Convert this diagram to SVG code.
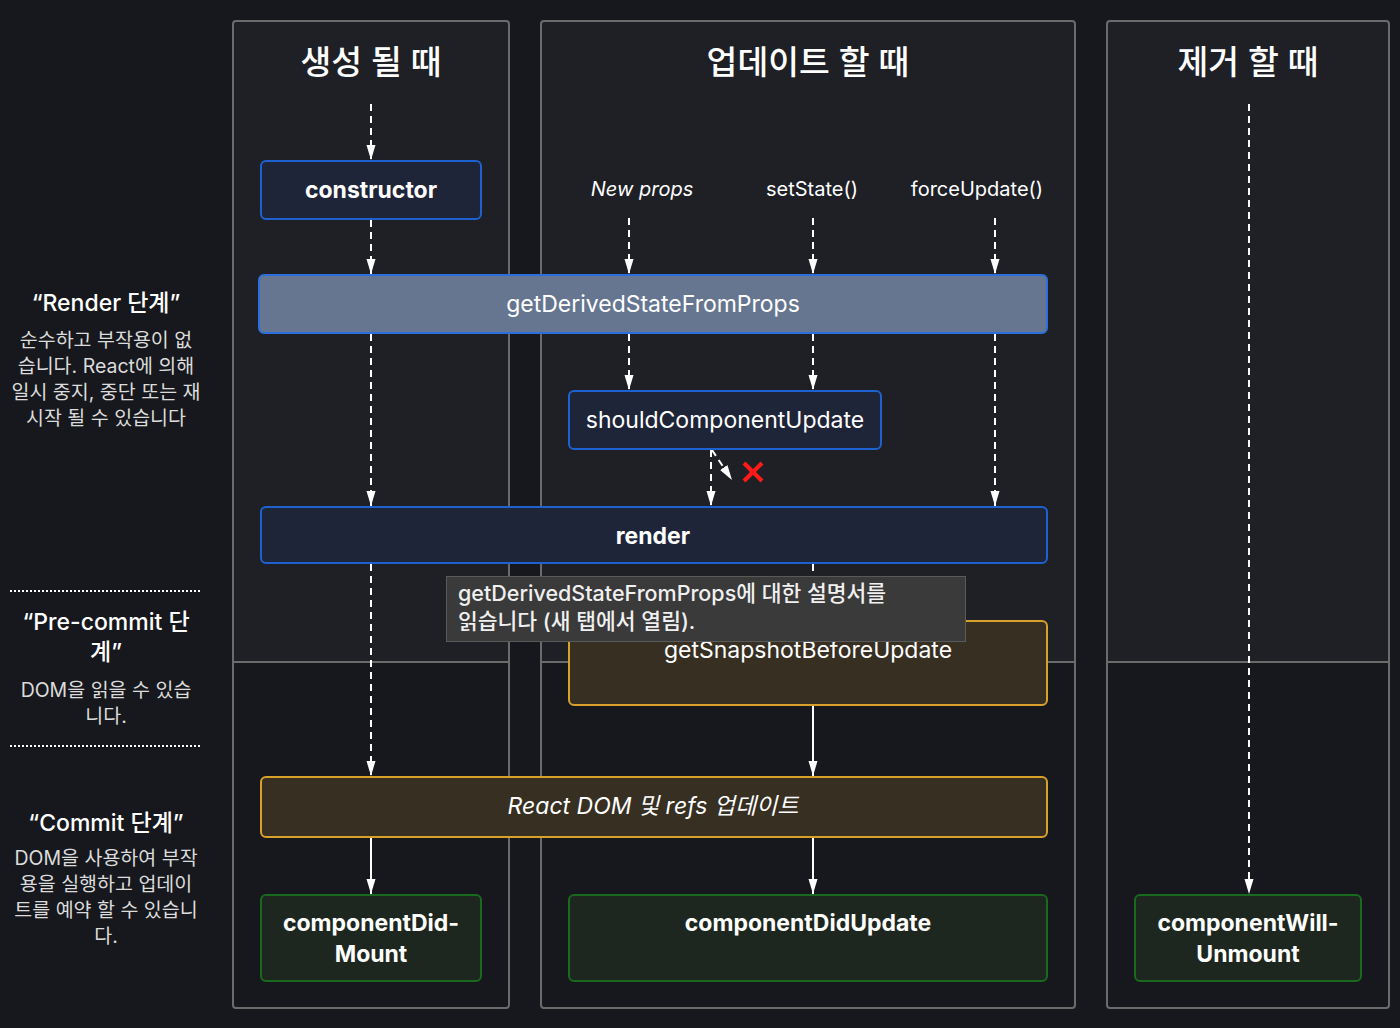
<svg xmlns="http://www.w3.org/2000/svg" width="1400" height="1028" viewBox="0 0 1400 1028">
<defs>
<style>
text{font-family:"Inter","Noto Sans CJK KR",sans-serif;fill:#ffffff}
.title{font-size:33.500px;font-weight:500;text-anchor:middle}
.node{font-size:23px;text-anchor:middle}
.b{font-weight:bold}
.lbl{font-size:20px;text-anchor:middle}
.side-h{font-size:23px;font-weight:500;text-anchor:middle}
.side{font-size:19.500px;text-anchor:middle;fill:#dcdcdc}
.tip{font-size:21.500px;font-weight:500;fill:#f0f0f0}
.col-up{fill:#1e2026}
.col-border{fill:none;stroke:#6b6b6b;stroke-width:2}
.divider{stroke:#6b6b6b;stroke-width:2}
.blue{fill:#1f2538;stroke:#1d62d0;stroke-width:2}
.gdsfp{fill:#667690;stroke:#2a6fdc;stroke-width:2}
.gold{fill:#372f22;stroke:#d9a02a;stroke-width:2}
.green{fill:#1e271f;stroke:#19691f;stroke-width:2}
.dash{stroke:#ffffff;stroke-width:2;stroke-dasharray:7 5;fill:none}
.solid{stroke:#ffffff;stroke-width:2;fill:none}
.dotted{stroke:#ffffff;stroke-width:2;stroke-dasharray:2 2}
</style>
<marker id="ah" markerUnits="userSpaceOnUse" markerWidth="16" markerHeight="10" viewBox="0 0 16 10" refX="15" refY="5" orient="auto">
<path d="M0,0.500 L15,5 L0,9.500 Z" fill="#ffffff"/>
</marker>
</defs>
<rect width="1400" height="1028" fill="#16181d"/>

<g id="columns">
<rect class="col-up" x="233" y="21" width="276" height="641"/>
<rect class="col-up" x="541" y="21" width="534" height="641"/>
<rect class="col-up" x="1107" y="21" width="282" height="641"/>
<line class="divider" x1="233" y1="662" x2="509" y2="662"/>
<line class="divider" x1="541" y1="662" x2="1075" y2="662"/>
<line class="divider" x1="1107" y1="662" x2="1389" y2="662"/>
<rect class="col-border" x="233" y="21" width="276" height="987" rx="3"/>
<rect class="col-border" x="541" y="21" width="534" height="987" rx="3"/>
<rect class="col-border" x="1107" y="21" width="282" height="987" rx="3"/>
<text class="title" x="371" y="74">생성 될 때</text>
<text class="title" x="808" y="74">업데이트 할 때</text>
<text class="title" x="1248" y="74">제거 할 때</text>
</g>

<g id="phases">
<text class="side-h" x="106" y="311">“Render 단계”</text>
<text class="side" x="106" y="347">순수하고 부작용이 없</text>
<text class="side" x="106" y="373">습니다. React에 의해</text>
<text class="side" x="106" y="399">일시 중지, 중단 또는 재</text>
<text class="side" x="106" y="425">시작 될 수 있습니다</text>
<line class="dotted" x1="10" y1="591" x2="202" y2="591"/>
<text class="side-h" x="106" y="630">“Pre-commit 단</text>
<text class="side-h" x="106" y="660">계”</text>
<text class="side" x="106" y="697">DOM을 읽을 수 있습</text>
<text class="side" x="106" y="723">니다.</text>
<line class="dotted" x1="10" y1="746" x2="202" y2="746"/>
<text class="side-h" x="106" y="831">“Commit 단계”</text>
<text class="side" x="106" y="865">DOM을 사용하여 부작</text>
<text class="side" x="106" y="891">용을 실행하고 업데이</text>
<text class="side" x="106" y="917">트를 예약 할 수 있습니</text>
<text class="side" x="106" y="943">다.</text>
</g>

<g id="triggers">
<text class="lbl" x="642" y="196" font-style="italic">New props</text>
<text class="lbl" x="812" y="196">setState()</text>
<text class="lbl" x="977" y="196">forceUpdate()</text>
</g>

<g id="connectors">
<line class="dash" x1="371" y1="104" x2="371" y2="160" marker-end="url(#ah)"/>
<line class="dash" x1="371" y1="220" x2="371" y2="274" marker-end="url(#ah)"/>
<line class="dash" x1="371" y1="334" x2="371" y2="506" marker-end="url(#ah)"/>
<line class="dash" x1="371" y1="564" x2="371" y2="776" marker-end="url(#ah)"/>
<line class="solid" x1="371" y1="838" x2="371" y2="894" marker-end="url(#ah)"/>
<line class="dash" x1="629" y1="218" x2="629" y2="274" marker-end="url(#ah)"/>
<line class="dash" x1="629" y1="334" x2="629" y2="390" marker-end="url(#ah)"/>
<line class="dash" x1="813" y1="218" x2="813" y2="274" marker-end="url(#ah)"/>
<line class="dash" x1="813" y1="334" x2="813" y2="390" marker-end="url(#ah)"/>
<line class="dash" x1="813" y1="564" x2="813" y2="620"/>
<line class="solid" x1="813" y1="706" x2="813" y2="776" marker-end="url(#ah)"/>
<line class="solid" x1="813" y1="838" x2="813" y2="894" marker-end="url(#ah)"/>
<line class="dash" x1="995" y1="218" x2="995" y2="274" marker-end="url(#ah)"/>
<line class="dash" x1="995" y1="334" x2="995" y2="506" marker-end="url(#ah)"/>
<line class="dash" x1="711" y1="450" x2="711" y2="506" marker-end="url(#ah)"/>
<line class="dash" x1="712" y1="450" x2="732" y2="480" marker-end="url(#ah)" stroke-dasharray="5 3"/>
<line class="dash" x1="1249" y1="104" x2="1249" y2="894" marker-end="url(#ah)"/>
<g id="blocked" stroke="#ff1a1a" stroke-width="4">
<line x1="744" y1="463" x2="762" y2="481"/>
<line x1="762" y1="463" x2="744" y2="481"/>
</g>
</g>

<g id="constructor">
<rect class="blue" x="261" y="161" width="220" height="58" rx="5"/>
<text class="node b" x="371" y="198">constructor</text>
</g>
<g id="getDerivedStateFromProps">
<rect class="gdsfp" x="259" y="275" width="788" height="58" rx="5"/>
<text class="node" x="653" y="312">getDerivedStateFromProps</text>
</g>
<g id="shouldComponentUpdate">
<rect class="blue" x="569" y="391" width="312" height="58" rx="5"/>
<text class="node" x="725" y="428">shouldComponentUpdate</text>
</g>
<g id="render">
<rect class="blue" x="261" y="507" width="786" height="56" rx="5"/>
<text class="node b" x="653" y="544">render</text>
</g>
<g id="getSnapshotBeforeUpdate">
<rect class="gold" x="569" y="621" width="478" height="84" rx="5"/>
<text class="node" x="808" y="658">getSnapshotBeforeUpdate</text>
</g>
<g id="reactDomUpdate">
<rect class="gold" x="261" y="777" width="786" height="60" rx="5" stroke="#e8aa2a"/>
<text class="node" x="653" y="814" font-style="italic">React DOM 및 refs 업데이트</text>
</g>
<g id="componentDidMount">
<rect class="green" x="261" y="895" width="220" height="86" rx="5"/>
<text class="node b" x="371" y="931">componentDid-</text>
<text class="node b" x="371" y="962">Mount</text>
</g>
<g id="componentDidUpdate">
<rect class="green" x="569" y="895" width="478" height="86" rx="5"/>
<text class="node b" x="808" y="931">componentDidUpdate</text>
</g>
<g id="componentWillUnmount">
<rect class="green" x="1135" y="895" width="226" height="86" rx="5"/>
<text class="node b" x="1248" y="931">componentWill-</text>
<text class="node b" x="1248" y="962">Unmount</text>
</g>

<g id="tooltip">
<rect x="446.500" y="576.500" width="519" height="65" fill="#3a3a3a" stroke="#5a5a5a" stroke-width="1"/>
<text class="tip" x="458" y="601">getDerivedStateFromProps에 대한 설명서를</text>
<text class="tip" x="458" y="629">읽습니다 (새 탭에서 열림).</text>
</g>
</svg>
